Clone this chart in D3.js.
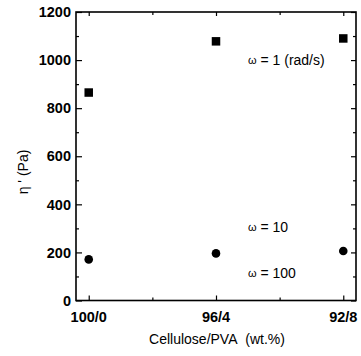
<!DOCTYPE html>
<html><head><meta charset="utf-8">
<script src="https://cdn.jsdelivr.net/npm/d3@7"></script>
<style>
html,body{margin:0;padding:0;background:#fff;}
text{font-family:Arial,"Liberation Sans",sans-serif;fill:#000;}
</style></head>
<body>
<svg id="c" width="361" height="356"></svg>
<script>
const categories = ["100/0", "96/4", "92/8"];
const eta_w1 = [865, 1078, 1090];     // squares, ω = 1 rad/s
const eta_w10 = [171, 196, 206];      // circles
const yTicks = [0, 200, 400, 600, 800, 1000, 1200];
const yMinor = [100, 300, 500, 700, 900, 1100];
const seriesLabels = ["= 1 (rad/s)", "= 10", "= 100"];

const svg = d3.select("#c");
const L = 76, R = 356, T = 12, B = 300.5;
const x = d3.scalePoint().domain(categories).range([L, R]).padding(0.1);
const y = d3.scaleLinear().domain([0, 1200]).range([B, T]);

const g = svg.append("g");
g.append("rect").attr("x", L).attr("y", T).attr("width", R - L).attr("height", B - T)
  .attr("fill", "none").attr("stroke", "#000").attr("stroke-width", 1.6);

g.append("g").attr("transform", `translate(${L},0)`)
  .call(d3.axisRight(y).tickValues(yTicks).tickSize(6).tickFormat(""))
  .call(s => s.select(".domain").remove());
g.append("g").attr("transform", `translate(${L},0)`)
  .call(d3.axisRight(y).tickValues(yMinor).tickSize(3).tickFormat(""))
  .call(s => s.select(".domain").remove());
g.append("g").attr("transform", `translate(${R},0)`)
  .call(d3.axisLeft(y).tickValues(yTicks).tickSize(5).tickFormat(""))
  .call(s => s.select(".domain").remove());
g.append("g").attr("transform", `translate(${R},0)`)
  .call(d3.axisLeft(y).tickValues(yMinor).tickSize(3).tickFormat(""))
  .call(s => s.select(".domain").remove());

g.selectAll(".ylab").data(yTicks).join("text")
  .attr("x", L - 5).attr("y", d => y(d)).attr("dy", "0.36em")
  .attr("text-anchor", "end").attr("font-weight", "bold").attr("font-size", 14.5)
  .text(d => d);

const xMid = [];
for (let i = 0; i < categories.length - 1; i++) xMid.push((x(categories[i]) + x(categories[i + 1])) / 2);
const xs = d3.scaleIdentity().domain([L, R]);
g.append("g").attr("transform", `translate(0,${B})`)
  .call(d3.axisTop(x).tickSize(5).tickFormat(""))
  .call(s => s.select(".domain").remove());
g.append("g").attr("transform", `translate(0,${B})`)
  .call(d3.axisTop(xs).tickValues(xMid).tickSize(3).tickFormat(""))
  .call(s => s.select(".domain").remove());
g.append("g").attr("transform", `translate(0,${T})`)
  .call(d3.axisBottom(x).tickSize(4).tickFormat(""))
  .call(s => s.select(".domain").remove());
g.append("g").attr("transform", `translate(0,${T})`)
  .call(d3.axisBottom(xs).tickValues(xMid).tickSize(3).tickFormat(""))
  .call(s => s.select(".domain").remove());
g.selectAll(".tick line").attr("stroke-width", 1.2);

g.selectAll(".xlab").data(categories).join("text")
  .attr("x", d => x(d)).attr("y", B + 16).attr("dy", "0.36em")
  .attr("text-anchor", "middle").attr("font-weight", "bold").attr("font-size", 14.5)
  .text(d => d);

svg.append("text").attr("x", 217).attr("y", 339).attr("dy", "0.36em")
  .attr("text-anchor", "middle").attr("font-size", 14)
  .text("Cellulose/PVA\u00a0\u00a0(wt.%)");
const yt = svg.append("text").attr("transform", "translate(28,172) rotate(-90)")
  .attr("text-anchor", "middle").attr("font-size", 14);
yt.append("tspan").text("\u03b7");
yt.append("tspan").text(" ' ");
yt.append("tspan").text("(Pa)");

const sq = 8.5;
svg.selectAll(".sq").data(categories).join("rect")
  .attr("x", (d) => x(d) - sq / 2).attr("y", (d, i) => y(eta_w1[i]) - sq / 2)
  .attr("width", sq).attr("height", sq).attr("fill", "#000");
svg.selectAll(".ci").data(categories).join("circle")
  .attr("cx", d => x(d)).attr("cy", (d, i) => y(eta_w10[i])).attr("r", 4.3).attr("fill", "#000");

const ann = [[248, 65], [248, 232], [248, 278]];
ann.forEach((p, i) => {
  const t = svg.append("text").attr("x", p[0]).attr("y", p[1]).attr("dy", "0.36em").attr("font-size", 14);
  t.append("tspan").attr("font-size", 11).attr("dy", "-0.1em").text("\u03c9");
  t.append("tspan").attr("dy", "0.1em").text(" " + seriesLabels[i]);
});
</script>
</body></html>
